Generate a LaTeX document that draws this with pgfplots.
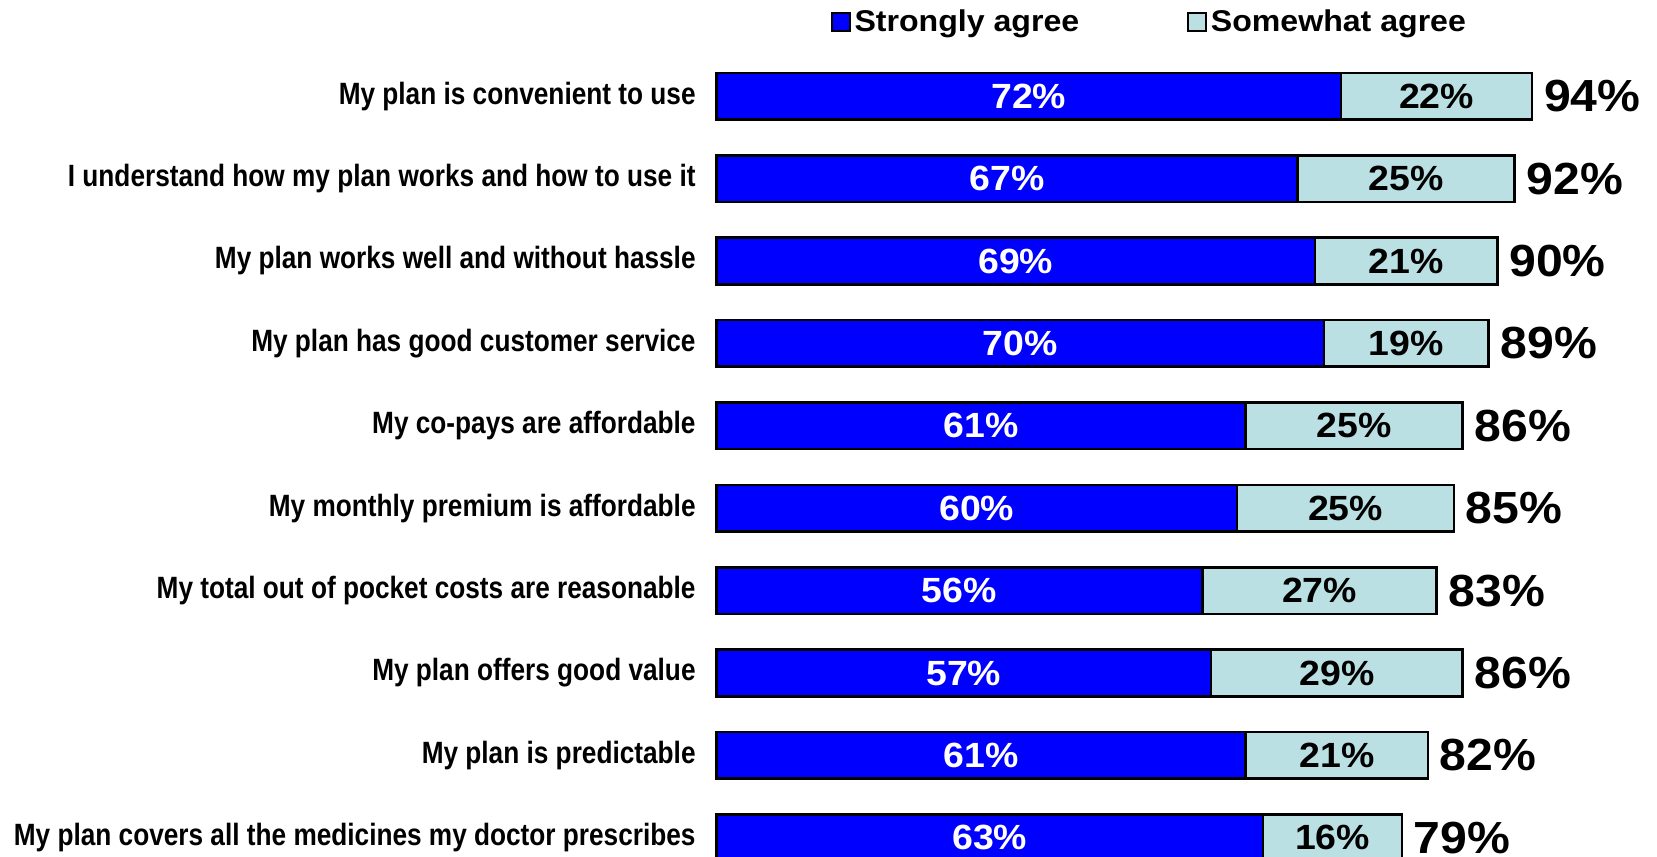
\documentclass[border=0pt]{standalone}
\usepackage{fontspec}
\setmainfont{Liberation Sans}[FakeStretch=1.07]
\newfontfamily\narrowfont{Liberation Sans}[FakeStretch=0.851]
\usepackage{pgfplots}
\usepackage{pgfplotstable}
\pgfplotsset{compat=1.18}

\definecolor{sblue}{RGB}{0,0,255}
\definecolor{scyan}{RGB}{186,224,227}

% strongly agree, somewhat agree, total (top row first)
\pgfplotstableread[col sep=comma]{
idx,strong,some,total
0,72,22,94
1,67,25,92
2,69,21,90
3,70,19,89
4,61,25,86
5,60,25,85
6,56,27,83
7,57,29,86
8,61,21,82
9,63,16,79
}\data

\begin{document}
\begin{tikzpicture}
\begin{axis}[
    name=ax,
    scale only axis,
    width=470.25pt, height=428.5pt,
    xmin=0, xmax=108.4,
    ymin=-1.167, ymax=9.233,
    y dir=reverse,
    clip=false,
    axis line style={draw=none},
    xtick=\empty,
    ytick={0,...,9},
    major tick length=0pt,
    tick style={draw=none},
    yticklabels={
        My plan is convenient to use,
        I understand how my plan works and how to use it,
        My plan works well and without hassle,
        My plan has good customer service,
        My co-pays are affordable,
        My monthly premium is affordable,
        My total out of pocket costs are reasonable,
        My plan offers good value,
        My plan is predictable,
        My plan covers all the medicines my doctor prescribes},
    yticklabel style={font=\narrowfont\bfseries\fontsize{15.4}{18}\selectfont,
        anchor=east, inner sep=0pt, xshift=-10.25pt},
    legend style={at={(0.4612,0.974)}, anchor=center, draw=none, fill=none,
        legend columns=2, inner sep=0pt,
        font=\bfseries\fontsize{15}{18}\selectfont,
        /tikz/every even column/.append style={column sep=51.8pt}},
    legend image code/.code={\draw[#1, line width=1pt] (0pt,-4.5pt) rectangle (9pt,4.5pt);},
    reverse legend,
]
\addplot[xbar, bar shift=0pt, bar width=23.25pt, fill=scyan, draw=black, line width=1.3pt]
    table[x=total, y=idx]{\data};
\addlegendentry{Somewhat agree}
\addplot[xbar, bar shift=0pt, bar width=23.25pt, fill=sblue, draw=black, line width=1.3pt]
    table[x=strong, y=idx]{\data};
\addlegendentry{Strongly agree}

% segment labels
\addplot[only marks, mark=none, forget plot, point meta=explicit symbolic,
    nodes near coords={\pgfplotspointmeta\%}, nodes near coords align=center,
    every node near coord/.append style={text=white, anchor=center,
        font=\bfseries\fontsize{17.5}{20}\selectfont}]
    table[x expr=\thisrow{strong}/2, y=idx, meta=strong]{\data};
\addplot[only marks, mark=none, forget plot, point meta=explicit symbolic,
    nodes near coords={\pgfplotspointmeta\%}, nodes near coords align=center,
    every node near coord/.append style={text=black, anchor=center,
        font=\bfseries\fontsize{17.5}{20}\selectfont}]
    table[x expr=\thisrow{strong}+\thisrow{some}/2, y=idx, meta=some]{\data};
% totals
\addplot[only marks, mark=none, forget plot, point meta=explicit symbolic,
    nodes near coords={\pgfplotspointmeta\%},
    every node near coord/.append style={text=black, anchor=west, inner sep=0pt,
        xshift=5.8pt, font=\bfseries\fontsize{22.5}{26}\selectfont}]
    table[x=total, y=idx, meta=total]{\data};
\end{axis}
\pgfresetboundingbox
\path[use as bounding box] ([xshift=-358.25pt]ax.south west) rectangle (ax.north east);
\end{tikzpicture}
\end{document}
